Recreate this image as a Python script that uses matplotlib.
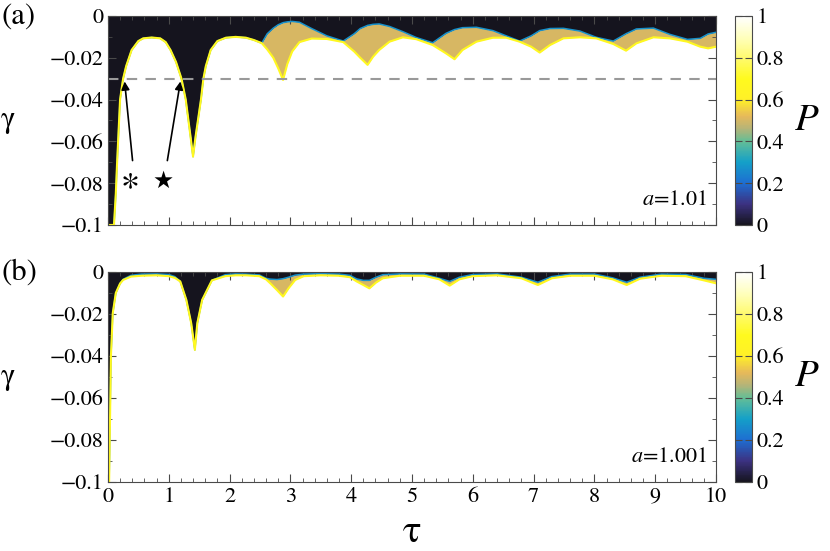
import matplotlib
matplotlib.use("Agg")
import matplotlib.pyplot as plt
from matplotlib.colors import LinearSegmentedColormap, Normalize
from matplotlib.cm import ScalarMappable
from matplotlib.ticker import MultipleLocator, FixedLocator, FixedFormatter

plt.rcParams['font.family'] = ['STIXGeneral', 'Liberation Serif', 'DejaVu Serif']
plt.rcParams['mathtext.fontset'] = 'stix'

# ---- data ----
# panel (a), a = 1.01 : boundaries of the P=1 (white) and P=0 (black) regions
tau_a = [0, 0.10, 0.13, 0.15, 0.20, 0.25, 0.30, 0.39, 0.50, 0.58, 0.72, 0.86,
         0.95, 1.03, 1.12, 1.21, 1.28, 1.36, 1.40, 1.44, 1.53, 1.57, 1.61,
         1.69, 1.80, 1.94, 2.10, 2.27, 2.40, 2.53, 2.62, 2.72, 2.80, 2.88,
         2.95, 3.03, 3.15, 3.35, 3.60, 3.87, 4.05, 4.15, 4.27, 4.36, 4.46,
         4.63, 4.85, 5.07, 5.34, 5.56, 5.70, 5.83, 6.06, 6.33, 6.55, 6.77,
         6.96, 7.10, 7.27, 7.49, 7.76, 8.03, 8.31, 8.52, 8.69, 8.97, 9.24,
         9.53, 9.74, 9.87, 10.0]
white_a = [-0.100, -0.100, -0.085, -0.071, -0.040, -0.030, -0.024, -0.0163,
           -0.0120, -0.0107, -0.0103, -0.0107, -0.0125, -0.0163, -0.0220,
           -0.0300, -0.040, -0.058, -0.0673, -0.058, -0.040, -0.030, -0.024,
           -0.0163, -0.0120, -0.0104, -0.0100, -0.0104, -0.0115, -0.0130,
           -0.0160, -0.0200, -0.0250, -0.0306, -0.0230, -0.0170, -0.0125,
           -0.0108, -0.0110, -0.0125, -0.0170, -0.0200, -0.0234, -0.0195,
           -0.0163, -0.0123, -0.0102, -0.0111, -0.0139, -0.0179, -0.0207,
           -0.0163, -0.0123, -0.0104, -0.0104, -0.0123, -0.0147, -0.0175,
           -0.0139, -0.0107, -0.0102, -0.0107, -0.0134, -0.0166, -0.0131,
           -0.0102, -0.0107, -0.0123, -0.0147, -0.0155, -0.0147]
black_a = [-0.100, -0.100, -0.085, -0.071, -0.040, -0.030, -0.024, -0.0163,
           -0.0120, -0.0107, -0.0103, -0.0107, -0.0125, -0.0163, -0.0220,
           -0.0300, -0.040, -0.058, -0.0673, -0.058, -0.040, -0.030, -0.024,
           -0.0163, -0.0120, -0.0104, -0.0100, -0.0104, -0.0115, -0.0130,
           -0.0085, -0.0058, -0.0042, -0.0032, -0.0028, -0.0026, -0.0030,
           -0.0060, -0.0095, -0.0120, -0.0085, -0.0060, -0.0045, -0.0040,
           -0.0038, -0.0050, -0.0075, -0.0103, -0.0128, -0.0083, -0.0065,
           -0.0056, -0.0054, -0.0070, -0.0095, -0.0120, -0.0095, -0.0070,
           -0.0060, -0.0059, -0.0072, -0.0102, -0.0120, -0.0085, -0.0062,
           -0.0058, -0.0088, -0.0112, -0.0107, -0.0086, -0.0078]

# panel (b), a = 1.001
tau_b = [0, 0.02, 0.05, 0.08, 0.13, 0.20, 0.25, 0.38, 0.55, 0.80, 1.00, 1.10,
         1.19, 1.29, 1.37, 1.43, 1.47, 1.55, 1.71, 1.93, 2.10, 2.27, 2.49,
         2.60, 2.67, 2.78, 2.88, 2.97, 3.08, 3.22, 3.50, 3.80, 3.98, 4.09,
         4.20, 4.30, 4.41, 4.52, 4.80, 5.20, 5.45, 5.62, 5.78, 6.00, 6.40,
         6.80, 7.07, 7.30, 7.60, 8.00, 8.30, 8.53, 8.75, 9.10, 9.50, 9.80,
         10.0]
white_b = [-0.100, -0.100, -0.040, -0.0196, -0.0100, -0.0055, -0.0038,
           -0.0022, -0.0018, -0.0016, -0.0020, -0.0028, -0.0045, -0.0133,
           -0.0244, -0.0371, -0.0244, -0.0133, -0.0040, -0.0020, -0.0016,
           -0.0016, -0.0020, -0.0035, -0.0054, -0.0086, -0.0117, -0.0078,
           -0.0038, -0.0020, -0.0016, -0.0018, -0.0025, -0.0045, -0.0062,
           -0.0078, -0.0050, -0.0030, -0.0018, -0.0018, -0.0035, -0.0065,
           -0.0035, -0.0020, -0.0016, -0.0030, -0.0062, -0.0030, -0.0018,
           -0.0018, -0.0035, -0.0062, -0.0032, -0.0018, -0.0020, -0.0040,
           -0.0054]
black_b = [-0.100, -0.100, -0.040, -0.0196, -0.0100, -0.0055, -0.0035,
           -0.0016, -0.0010, -0.0009, -0.0012, -0.0022, -0.0045, -0.0133,
           -0.0244, -0.0371, -0.0244, -0.0133, -0.0040, -0.0013, -0.0009,
           -0.0010, -0.0014, -0.0030, -0.0034, -0.0036, -0.0032, -0.0025,
           -0.0015, -0.0010, -0.0008, -0.0010, -0.0016, -0.0033, -0.0040,
           -0.0040, -0.0025, -0.0013, -0.0009, -0.0010, -0.0030, -0.0045,
           -0.0025, -0.0012, -0.0009, -0.0025, -0.0049, -0.0022, -0.0010,
           -0.0010, -0.0028, -0.0049, -0.0025, -0.0010, -0.0012, -0.0030,
           -0.0035]

# P value in each region
p_black = 0.0
p_mixed = 0.5
p_white = 1.0

y_ticks = [0, -0.02, -0.04, -0.06, -0.08, -0.1]
y_labels = ["0", "\u22120.02", "\u22120.04", "\u22120.06", "\u22120.08", "\u22120.1"]
cb_ticks = [0, 0.2, 0.4, 0.6, 0.8, 1]
cb_labels = ["0", "0.2", "0.4", "0.6", "0.8", "1"]

# colormap similar to the one in the figure
cmap = LinearSegmentedColormap.from_list("pcmap", [
    (0.00, "#15141e"), (0.10, "#3c3282"), (0.20, "#1e6ed2"),
    (0.30, "#14a0c8"), (0.40, "#64be96"), (0.46, "#b4b478"),
    (0.52, "#e6b95a"), (0.60, "#fff028"), (0.70, "#fffa1e"),
    (0.80, "#fffa6e"), (0.90, "#ffffbe"), (1.00, "#ffffff")])

fig = plt.figure(figsize=(8.3, 5.51), dpi=100)
ax_a = fig.add_axes([0.130, 0.5917, 0.7327, 0.3793])
ax_b = fig.add_axes([0.130, 0.1252, 0.7327, 0.3812])
cax_a = fig.add_axes([0.8855, 0.5917, 0.0205, 0.3793])
cax_b = fig.add_axes([0.8855, 0.1252, 0.0205, 0.3812])

edge = "#4a4a4a"


def draw_panel(ax, tau, white, black, label):
    ax.fill_between(tau, black, 0, color=cmap(p_black), lw=0)
    ax.fill_between(tau, white, black, color=cmap(p_mixed), lw=0)
    ax.fill_between(tau, -0.1, white, color=cmap(p_white), lw=0)
    ax.plot(tau, black, color=cmap(0.27), lw=1.1)
    ax.plot(tau, white, color=cmap(0.68), lw=1.5)
    ax.set_xlim(0, 10)
    ax.set_ylim(-0.1, 0)
    ax.xaxis.set_major_locator(MultipleLocator(1))
    ax.xaxis.set_minor_locator(MultipleLocator(0.2))
    ax.yaxis.set_major_locator(FixedLocator(y_ticks))
    ax.yaxis.set_major_formatter(FixedFormatter(y_labels))
    ax.yaxis.set_minor_locator(MultipleLocator(0.01))
    ax.tick_params(which="both", direction="in", top=True, right=True,
                   color=edge, labelsize=16)
    ax.tick_params(which="major", length=6)
    ax.tick_params(which="minor", length=3)
    for s in ax.spines.values():
        s.set_color(edge)
    ax.set_ylabel("\u03b3", fontsize=22, rotation=0, labelpad=30, va="center")
    ax.text(0.985, 0.07, "$a$=" + label, transform=ax.transAxes,
            ha="right", va="bottom", fontsize=16)


def draw_cbar(cax):
    sm = ScalarMappable(norm=Normalize(0, 1), cmap=cmap)
    cb = fig.colorbar(sm, cax=cax)
    cb.set_ticks(cb_ticks)
    cb.set_ticklabels(cb_labels)
    cb.outline.set_edgecolor(edge)
    cax.tick_params(direction="in", left=True, right=True, length=5,
                    color=edge, labelsize=16)
    cb.set_label("$P$", fontsize=28, rotation=0, labelpad=16, va="center")


draw_panel(ax_a, tau_a, white_a, black_a, "1.01")
draw_panel(ax_b, tau_b, white_b, black_b, "1.001")
ax_a.tick_params(labelbottom=False)
ax_b.set_xlabel("\u03c4", fontsize=28, labelpad=6)

# dashed line and the two marked crossings in (a)
ax_a.axhline(-0.03, color="#999999", lw=1.5, ls=(0, (5, 4)))
ax_a.annotate("", xy=(0.27, -0.0300), xytext=(0.41, -0.0705),
              arrowprops=dict(arrowstyle="-|>", color="black", lw=1.2,
                              mutation_scale=12))
ax_a.annotate("", xy=(1.20, -0.0300), xytext=(0.97, -0.0705),
              arrowprops=dict(arrowstyle="-|>", color="black", lw=1.2,
                              mutation_scale=12))
ax_a.text(0.36, -0.079, "\u2217", fontsize=26, ha="center", va="center")
ax_a.text(0.90, -0.079, "\u2605", fontsize=17, ha="center", va="center",
          family=["DejaVu Sans"])

draw_cbar(cax_a)
draw_cbar(cax_b)

fig.text(0.002, 0.995, "(a)", fontsize=22, va="top")
fig.text(0.002, 0.530, "(b)", fontsize=22, va="top")

fig.savefig("out.png", dpi=100)
